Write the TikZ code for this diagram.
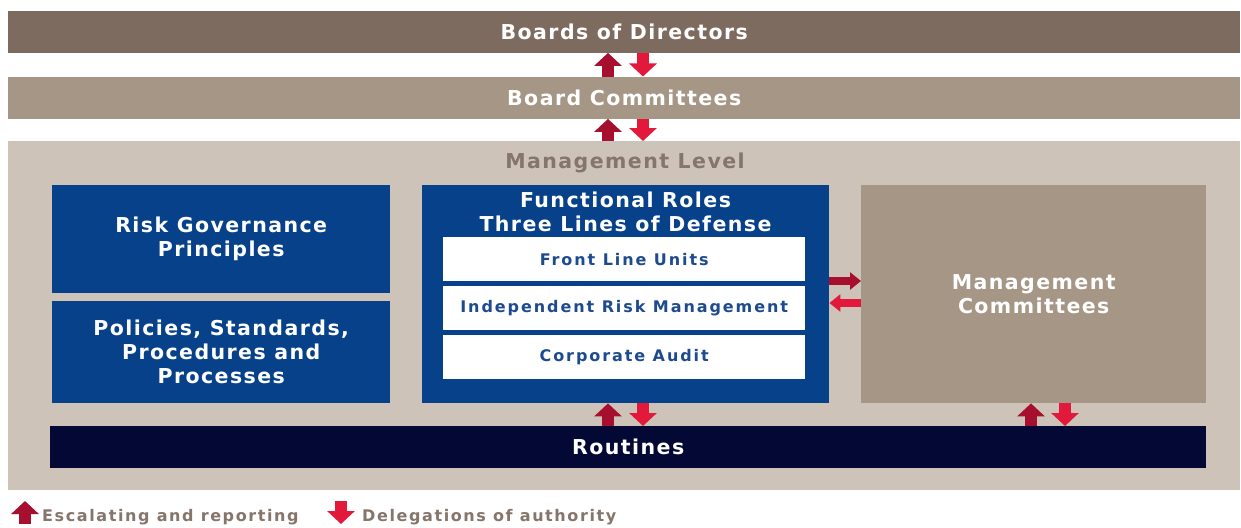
\documentclass[tikz,border=0pt]{standalone}
\usepackage{fontspec}
\setmainfont{DejaVu Sans}
\newfontfamily\bigf{DejaVu Sans}[LetterSpace=7]
\newfontfamily\smallf{DejaVu Sans}[LetterSpace=12]
\newfontfamily\legf{DejaVu Sans}[LetterSpace=10]
\usetikzlibrary{arrows.meta,calc}
\definecolor{bodc}{HTML}{7E6B60}
\definecolor{bcc}{HTML}{A69686}
\definecolor{mlc}{HTML}{CDC3B9}
\definecolor{mlt}{HTML}{85756A}
\definecolor{blu}{HTML}{06418A}
\definecolor{navy}{HTML}{040835}
\definecolor{upc}{HTML}{A60F2D}
\definecolor{dnc}{HTML}{E3193B}
\definecolor{wtxt}{HTML}{1D4B8E}
\begin{document}
\begin{tikzpicture}[x=1pt,y=-1pt,
  box/.style={anchor=north west, inner sep=0pt, align=center, text=white,
    font=\bigf\bfseries\fontsize{20.5}{24}\selectfont},
  wbox/.style={anchor=north west, inner sep=0pt, fill=white, text=wtxt,
    minimum width=362pt, minimum height=44pt, font=\smallf\bfseries\fontsize{16}{18}\selectfont},
  uparr/.style={draw=upc, line width=12pt, -{Triangle[width=27pt,length=13pt]}},
  dnarr/.style={draw=dnc, line width=12pt, -{Triangle[width=27pt,length=13pt]}},
  huparr/.style={draw=upc, line width=8pt, -{Triangle[width=17pt,length=11pt]}},
  hdnarr/.style={draw=dnc, line width=8pt, -{Triangle[width=17pt,length=11pt]}},
  legtxt/.style={anchor=west, inner sep=0pt, text=mlt, font=\legf\bfseries\fontsize{16}{18}\selectfont}]
\useasboundingbox[fill=white] (0,0) rectangle (1241,527);
\node[box, fill=bodc, minimum width=1232pt, minimum height=42pt] (bod) at (8,10.5) {Boards of Directors};
\node[box, fill=bcc, minimum width=1232pt, minimum height=42pt] (bc) at (8,76.5) {Board Committees};
\node[anchor=north west, inner sep=0pt, fill=mlc, minimum width=1232pt, minimum height=349pt] (ml) at (8,141) {};
\node[text=mlt, font=\bigf\bfseries\fontsize{20.5}{24}\selectfont, inner sep=0pt] (mlt) at (625,163) {Management Level};
\node[box, fill=blu, minimum width=338pt, minimum height=108pt] (rgp) at (52,185) {Risk Governance\\Principles};
\node[box, fill=blu, minimum width=338pt, minimum height=102pt] (pol) at (52,301) {Policies, Standards,\\Procedures and\\Processes};
\node[box, fill=blu, minimum width=407pt, minimum height=218pt] (fr) at (422,185) {};
\node[box, text=white, anchor=center] (frt) at (625.5,212) {Functional Roles\\Three Lines of Defense};
\node[wbox] (flu) at (443,237) {Front Line Units};
\node[wbox] (irm) at (443,286) {Independent Risk Management};
\node[wbox] (ca) at (443,335) {Corporate Audit};
\node[box, fill=bcc, minimum width=345pt, minimum height=218pt] (mc) at (861,185) {Management\\Committees};
\node[box, fill=navy, minimum width=1156pt, minimum height=42pt] (rt) at (50,426) {Routines};
% arrows
\draw[uparr] ($(bc.north west)+(600,0)$) -- ($(bod.south west)+(600,0)$);
\draw[dnarr] ($(bod.south west)+(635,0)$) -- ($(bc.north west)+(635,0)$);
\draw[uparr] ($(ml.north west)+(600,0)$) -- ($(bc.south west)+(600,0)$);
\draw[dnarr] ($(bc.south west)+(635,0)$) -- ($(ml.north west)+(635,0)$);
\draw[uparr] ($(rt.north west)+(558,0)$) -- ($(fr.south west)+(186,0)$);
\draw[dnarr] ($(fr.south west)+(221,0)$) -- ($(rt.north west)+(593,0)$);
\draw[uparr] ($(rt.north west)+(981,0)$) -- ($(mc.south west)+(170,0)$);
\draw[dnarr] ($(mc.south west)+(204,0)$) -- ($(rt.north west)+(1015,0)$);
\draw[huparr] ($(fr.north east)+(0,96)$) -- ($(mc.north west)+(0,96)$);
\draw[hdnarr] ($(mc.north west)+(0,118)$) -- ($(fr.north east)+(0,118)$);
% legend
\coordinate (l1a) at (25,524);
\coordinate (l1b) at (25,501);
\coordinate (l2a) at (341,501);
\coordinate (l2b) at (341,524);
\draw[uparr] (l1a) -- (l1b);
\draw[dnarr] (l2a) -- (l2b);
\node[legtxt] (lt1) at (42,517) {Escalating and reporting};
\node[legtxt] (lt2) at (362,517) {Delegations of authority};
\end{tikzpicture}
\end{document}
